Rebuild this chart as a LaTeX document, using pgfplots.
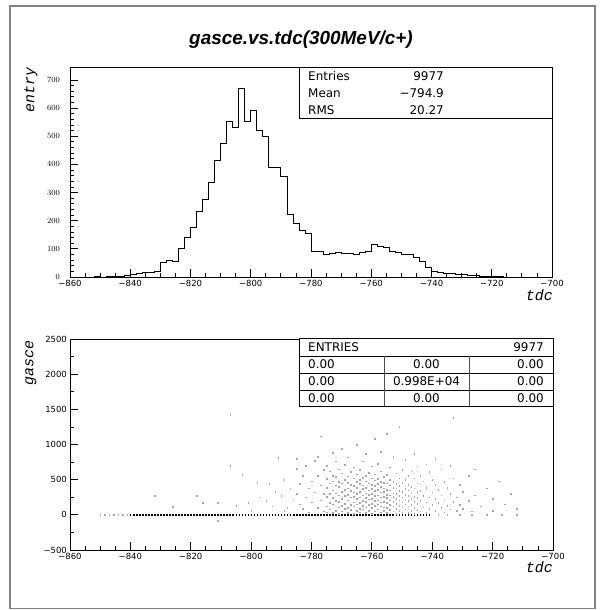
\documentclass[border=0pt]{standalone}
\usepackage{pgfplots}
\pgfplotsset{compat=1.18}
\usepackage{pgfplotstable}
\usepackage{fontspec}
\setmainfont{DejaVu Sans}
\newfontfamily\titlefont{Liberation Sans}
\newfontfamily\labfont{Liberation Mono}
\definecolor{framegray}{RGB}{130,130,130}
\definecolor{dotgray}{RGB}{165,165,165}

\pgfplotstableread{
x y
-860 0
-858 0
-856 0
-854 0
-852 1
-850 0
-848 1
-846 2
-844 3
-842 5
-840 10
-838 14
-836 16
-834 18
-832 20
-830 53
-828 58
-826 55
-824 101
-822 140
-820 176
-818 233
-816 277
-814 336
-812 414
-810 476
-808 554
-806 530
-804 670
-802 551
-800 593
-798 521
-796 498
-794 390
-792 390
-790 357
-788 221
-786 190
-784 165
-782 155
-780 90
-778 91
-776 81
-774 85
-772 86
-770 85
-768 83
-766 81
-764 86
-762 90
-760 114
-758 107
-756 105
-754 90
-752 87
-750 81
-748 79
-746 69
-744 55
-742 33
-740 19
-738 18
-736 14
-734 14
-732 10
-730 10
-728 5
-726 4
-724 2
-722 2
-720 1
-718 1
-716 0
-714 0
-712 0
-710 0
-708 0
-706 0
-704 0
-702 0
-700 0
}\histdata

\begin{document}
\begin{tikzpicture}[x=1bp,y=1bp]
\useasboundingbox (0,0) rectangle (602,610);
\draw[framegray, line width=1.6bp] (10,1.5) rectangle (595,604);
\node[font=\titlefont\bfseries\itshape\fontsize{19}{22}\selectfont] at (301,570) {gasce.vs.tdc(300MeV/c+)};

\pgfplotsset{
  paw/.style={
    anchor=south west, scale only axis,
    axis line style={line width=0.9bp},
    every tick/.style={black, line width=0.8bp},
    major tick length=8bp, minor tick length=4bp,
    xtick pos=bottom, ytick pos=left, tick align=inside,
    xmin=-860, xmax=-700,
    xtick={-860,-840,-820,-800,-780,-760,-740,-720,-700},
    xticklabels={−860,−840,−820,−800,−780,−760,−740,−720,−700},
    minor x tick num=3,
    tick label style={font=\fontsize{8.5}{10}\selectfont},
    xticklabel style={anchor=north, inner sep=0pt, yshift=-3bp},
    clip=false,
  }
}

\begin{axis}[paw, at={(70bp,333bp)}, width=482bp, height=210bp,
  ymin=0, ymax=746,
  ytick={0,100,200,300,400,500,600,700},
  minor y tick num=4,
  yticklabel style={anchor=east, inner sep=0pt, xshift=-10bp},
]
\addplot[const plot, black, line width=0.8bp] table[x=x,y=y] {\histdata};
\end{axis}

\begin{axis}[paw, at={(70bp,60bp)}, width=483bp, height=211bp,
  ymin=-500, ymax=2500,
  ytick={-500,0,500,1000,1500,2000,2500},
  yticklabels={−500,0,500,1000,1500,2000,2500},
  minor y tick num=1,
  yticklabel style={anchor=east, inner sep=0pt, xshift=-3bp},
]
\addplot[only marks, mark=square*, mark size=0.32bp, black, mark options={draw=none}] coordinates {
(-840,0)(-839,0)(-838,0)(-837,0)(-836,0)(-835,0)(-834,0)(-833,0)(-832,0)(-831,0)
(-830,0)(-829,0)(-828,0)(-827,0)(-826,0)(-825,0)(-824,0)(-823,0)(-822,0)(-821,0)
(-820,0)(-819,0)(-818,0)(-817,0)(-816,0)(-815,0)(-814,0)(-813,0)(-812,0)(-811,0)
(-810,0)(-809,0)(-808,0)(-807,0)(-806,0)(-805,0)(-804,0)(-803,0)(-802,0)(-801,0)
(-800,0)(-799,0)(-798,0)(-797,0)(-796,0)(-795,0)(-794,0)(-793,0)(-792,0)(-791,0)
(-790,0)(-789,0)(-788,0)(-787,0)(-786,0)(-785,0)(-784,0)(-783,0)(-782,0)(-781,0)
(-780,0)(-779,0)(-778,0)(-777,0)(-776,0)(-775,0)(-774,0)(-773,0)(-772,0)(-771,0)
(-770,0)(-769,0)(-768,0)(-767,0)(-766,0)(-765,0)(-764,0)(-763,0)(-762,0)(-761,0)
(-760,0)(-759,0)(-758,0)(-757,0)(-756,0)(-755,0)(-754,0)(-753,0)(-752,0)(-751,0)
(-750,0)(-749,0)(-748,0)(-747,0)(-746,0)(-745,0)(-744,0)(-743,0)(-742,0)(-741,0)
};
\addplot[only marks, mark=square*, mark size=0.3bp, dotgray, mark options={draw=none}] coordinates {
(-850,0)(-848.5,0)(-847,0)(-845.5,0)(-844,0)(-842.5,0)(-841,0)
(-738,0)(-735,0)(-731,0)(-727,0)(-722,0)(-717,0)(-712,0)
(-832,270)(-826,118)(-818,270)(-816,175)(-811,175)(-811,-85)(-807,1420)(-807,696)
(-805,130)(-803,568)(-801,175)(-800,60)(-798,454)(-797,250)(-795,199)(-794,440)
(-793,120)(-792,330)(-791,810)(-790,270)(-789,497)(-789,60)(-788,104)(-787,380)(-786,220)
(-785,795)(-785,653)(-785,300)(-784,440)(-784,150)(-783,560)(-783,90)(-782,250)(-782,700)
(-781,380)(-781,40)(-780,480)(-780,180)(-779,770)(-779,320)(-778,830)(-778,100)(-778,560)
(-777,1120)(-777,420)(-777,210)(-776,640)(-776,50)(-776,300)
(-775,40)(-775,120)(-775,260)(-775,390)(-775,510)(-775,700)
(-774,80)(-774,170)(-774,300)(-774,450)(-774,620)
(-773,30)(-773,150)(-773,240)(-773,350)(-773,480)(-773,560)(-773,880)
(-772,60)(-772,200)(-772,310)(-772,420)(-772,540)(-772,760)
(-771,20)(-771,110)(-771,190)(-771,280)(-771,400)(-771,470)(-771,650)
(-770,50)(-770,130)(-770,230)(-770,330)(-770,450)(-770,590)(-770,940)
(-769,90)(-769,160)(-769,270)(-769,360)(-769,500)(-769,710)
(-768,30)(-768,100)(-768,210)(-768,290)(-768,380)(-768,460)(-768,550)(-768,820)
(-767,70)(-767,140)(-767,250)(-767,340)(-767,430)(-767,610)
(-766,20)(-766,120)(-766,180)(-766,260)(-766,320)(-766,410)(-766,520)(-766,680)
(-765,60)(-765,150)(-765,230)(-765,300)(-765,390)(-765,470)(-765,580)(-765,1000)
(-764,40)(-764,90)(-764,170)(-764,250)(-764,330)(-764,440)(-764,500)(-764,640)
(-763,80)(-763,130)(-763,200)(-763,280)(-763,370)(-763,420)(-763,530)(-763,760)
(-762,30)(-762,110)(-762,190)(-762,240)(-762,310)(-762,390)(-762,480)(-762,560)(-762,870)
(-761,60)(-761,140)(-761,220)(-761,290)(-761,350)(-761,450)(-761,600)
(-760,20)(-760,100)(-760,160)(-760,230)(-760,300)(-760,370)(-760,430)(-760,520)(-760,690)
(-759,50)(-759,130)(-759,200)(-759,270)(-759,340)(-759,410)(-759,490)(-759,580)(-759,1080)
(-758,80)(-758,150)(-758,210)(-758,280)(-758,360)(-758,440)(-758,510)(-758,730)
(-757,40)(-757,120)(-757,180)(-757,250)(-757,320)(-757,400)(-757,470)(-757,620)(-757,900)
(-756,60)(-756,110)(-756,190)(-756,260)(-756,330)(-756,380)(-756,460)(-756,540)
(-755,30)(-755,100)(-755,170)(-755,240)(-755,290)(-755,360)(-755,450)(-755,570)(-755,1150)
(-754,70)(-754,140)(-754,210)(-754,280)(-754,350)(-754,420)(-754,500)(-754,680)
(-753,50)(-753,120)(-753,190)(-753,260)(-753,310)(-753,390)(-753,470)(-753,830)
(-752,20)(-752,90)(-752,160)(-752,230)(-752,300)(-752,380)(-752,440)(-752,590)
(-751,60)(-751,130)(-751,210)(-751,270)(-751,340)(-751,410)(-751,520)(-751,1250)
(-750,40)(-750,110)(-750,180)(-750,250)(-750,330)(-750,460)(-750,640)
(-749,80)(-749,150)(-749,220)(-749,290)(-749,370)(-749,500)(-749,780)
(-748,30)(-748,120)(-748,200)(-748,270)(-748,350)(-748,430)(-748,560)
(-747,60)(-747,140)(-747,230)(-747,310)(-747,400)(-747,620)
(-746,20)(-746,100)(-746,190)(-746,260)(-746,380)(-746,520)(-746,870)
(-745,70)(-745,160)(-745,240)(-745,330)(-745,450)(-745,690)
(-744,50)(-744,200)(-744,340)(-744,560)
(-743,110)(-743,270)(-743,480)
(-742,30)(-742,180)(-742,390)(-742,720)
(-741,90)(-741,250)(-741,610)
(-740,140)(-740,320)(-740,500)
(-739,60)(-739,230)(-739,430)(-739,800)
(-738,170)(-738,360)
(-737,100)(-737,280)(-737,650)
(-736,40)(-736,210)(-736,470)
(-735,130)(-735,390)
(-734,80)(-734,300)(-734,700)
(-733,190)(-733,520)(-733,1380)
(-732,60)(-732,250)
(-731,140)(-731,430)
(-730,90)(-730,330)
(-728,200)(-728,560)
(-727,50)
(-726,280)(-726,650)
(-724,120)
(-722,380)
(-720,60)(-720,230)
(-718,480)
(-716,150)
(-714,300)
(-712,90)
};
\end{axis}

% upper statistics box
\draw[black, line width=0.9bp, fill=white] (299,492) rectangle (552,543);
\begin{scope}[every node/.style={font=\fontsize{12}{14}\selectfont, inner sep=0pt}]
\node[anchor=west] at (308,534) {Entries};
\node[anchor=east] at (444,534) {9977};
\node[anchor=west] at (308,517) {Mean};
\node[anchor=east] at (444,517) {−794.9};
\node[anchor=west] at (308,500) {RMS};
\node[anchor=east] at (444,500) {20.27};
\end{scope}

% lower statistics box
\draw[black, line width=0.9bp, fill=white] (299,204) rectangle (553,272);
\draw[black, line width=0.9bp] (299,254) -- (553,254) (299,237) -- (553,237) (299,220) -- (553,220);
\draw[black!70, line width=0.9bp] (384,204) -- (384,254) (469,204) -- (469,254);
\begin{scope}[every node/.style={font=\fontsize{12}{14}\selectfont, inner sep=0pt}]
\node[anchor=west] at (308,263) {ENTRIES};
\node[anchor=east] at (544,263) {9977};
\node[anchor=west] at (308,245.5) {0.00};
\node at (426.5,245.5) {0.00};
\node[anchor=east] at (544,245.5) {0.00};
\node[anchor=west] at (308,228.5) {0.00};
\node at (426.5,228.5) {0.998E+04};
\node[anchor=east] at (544,228.5) {0.00};
\node[anchor=west] at (308,212) {0.00};
\node at (426.5,212) {0.00};
\node[anchor=east] at (544,212) {0.00};
\end{scope}

% axis titles
\node[font=\labfont\itshape\fontsize{15}{16}\selectfont, rotate=90, inner sep=0pt] at (31,520) {entry};
\node[font=\labfont\itshape\fontsize{15}{16}\selectfont, rotate=90, inner sep=0pt] at (31,247) {gasce};
\node[font=\labfont\itshape\fontsize{15}{16}\selectfont, anchor=east, inner sep=0pt] at (553,315) {tdc};
\node[font=\labfont\itshape\fontsize{15}{16}\selectfont, anchor=east, inner sep=0pt] at (553,43) {tdc};
\end{tikzpicture}
\end{document}
